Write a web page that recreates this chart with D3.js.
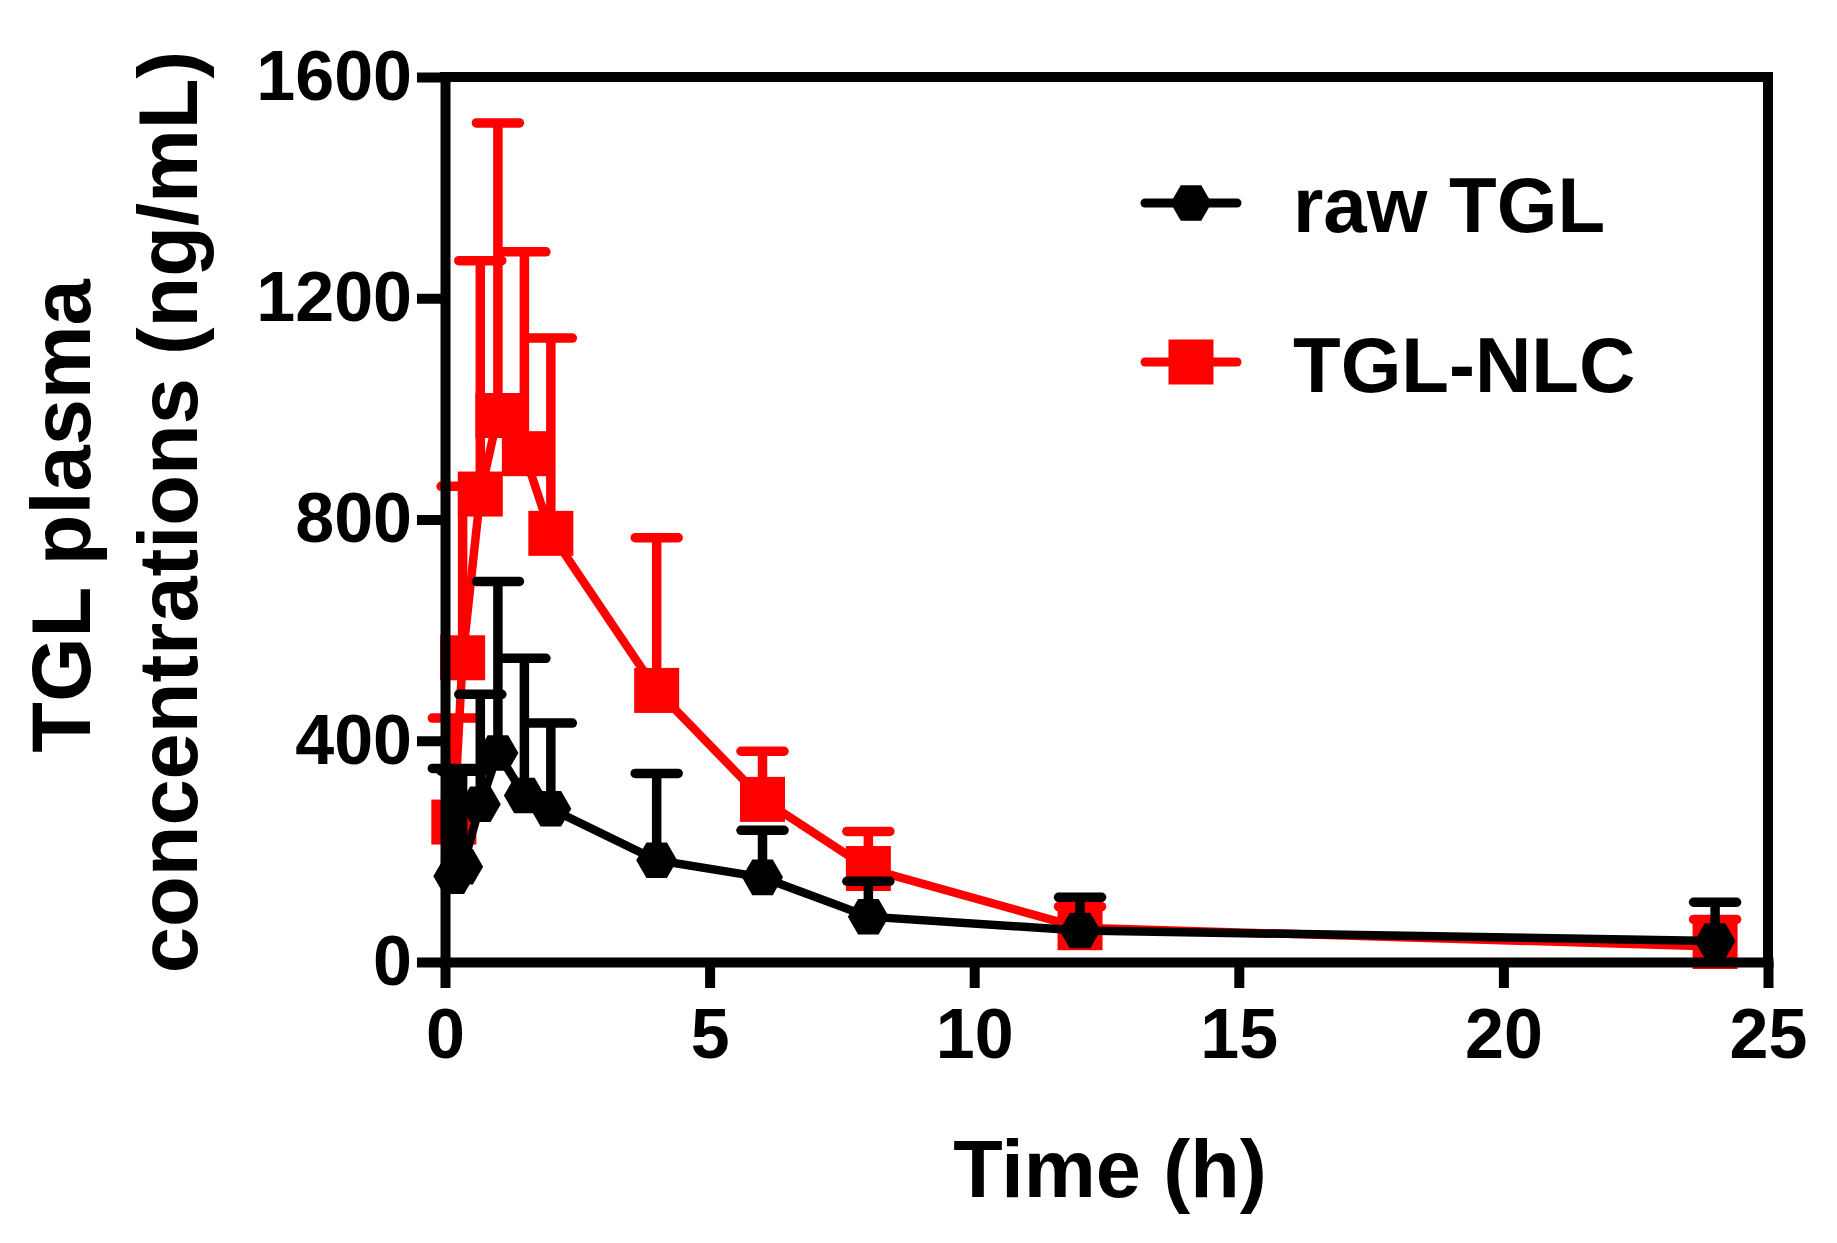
<!DOCTYPE html>
<html>
<head>
<meta charset="utf-8">
<script src="https://cdn.jsdelivr.net/npm/d3@7"></script>
<style>
  body { margin: 0; background: #fff; }
  text { font-family: "Liberation Sans", Arial, sans-serif; font-weight: bold; }
</style>
</head>
<body>
<div id="root"></div>
<script>
// sampling times (h)
const times = [0.167, 0.333, 0.667, 1, 1.5, 2, 4, 6, 8, 12, 24];

// raw TGL: mean and SD (ng/mL)
const rawMean = [155, 172, 285, 378, 301, 277, 184, 153, 82, 57, 38];
const rawSD = [195, 173, 199, 310, 248, 155, 157, 85, 64, 60, 70];

// TGL-NLC: mean and SD (ng/mL)
const nlcMean = [253, 550, 846, 988, 919, 775, 491, 294, 169, 62, 28];
const nlcSD = [188, 310, 422, 529, 365, 353, 276, 87, 67, 38, 49];

const xTicks = [0, 5, 10, 15, 20, 25];
const yTicks = [0, 400, 800, 1200, 1600];
const seriesNames = ["raw TGL", "TGL-NLC"];

// set the dimensions and margins of the graph
let margin = { top: 77, right: 69, bottom: 281, left: 445 },
  width = 1837 - margin.left - margin.right,
  height = 1243 - margin.top - margin.bottom;

let x = d3.scaleLinear().domain([0, 25]).range([0, width]);
let y = d3.scaleLinear().domain([0, 1600]).range([height, 0]);

let svg = d3
  .select("#root")
  .append("svg")
  .attr("width", 1837)
  .attr("height", 1243)
  .style("background", "#fff");

let g = svg.append("g").attr("transform", "translate(" + margin.left + "," + margin.top + ")");

// hexagon with flat top, r = half width
const hexPath = (r) => {
  let p = d3.path();
  for (let i = 0; i < 6; i++) {
    let a = (Math.PI / 3) * i;
    let px = r * Math.cos(a), py = r * Math.sin(a);
    if (i === 0) p.moveTo(px, py);
    else p.lineTo(px, py);
  }
  p.closePath();
  return p.toString();
};

const makeData = (mean, sd) => times.map((t, i) => ({ t: t, m: mean[i], sd: sd[i] }));
const raw = makeData(rawMean, rawSD);
const nlc = makeData(nlcMean, nlcSD);

let line = d3.line().x((d) => x(d.t)).y((d) => y(d.m));

// draw one series: error bars, line, markers
const drawSeries = (data, color, marker) => {
  let s = g.append("g");
  // upper error bars
  s.selectAll(".stem")
    .data(data)
    .enter()
    .append("line")
    .attr("x1", (d) => x(d.t))
    .attr("x2", (d) => x(d.t))
    .attr("y1", (d) => y(d.m))
    .attr("y2", (d) => y(d.m + d.sd))
    .attr("stroke", color)
    .attr("stroke-width", 9.5);
  s.selectAll(".cap")
    .data(data)
    .enter()
    .append("line")
    .attr("x1", (d) => x(d.t) - 21.5)
    .attr("x2", (d) => x(d.t) + 21.5)
    .attr("y1", (d) => y(d.m + d.sd))
    .attr("y2", (d) => y(d.m + d.sd))
    .attr("stroke", color)
    .attr("stroke-width", 9.5)
    .attr("stroke-linecap", "round");
  s.append("path")
    .datum(data)
    .attr("d", line)
    .attr("fill", "none")
    .attr("stroke", color)
    .attr("stroke-width", 8.5);
  if (marker === "square") {
    s.selectAll(".mk")
      .data(data)
      .enter()
      .append("rect")
      .attr("x", (d) => x(d.t) - 22.5)
      .attr("y", (d) => y(d.m) - 22.5)
      .attr("width", 45)
      .attr("height", 45)
      .attr("fill", color);
  } else {
    s.selectAll(".mk")
      .data(data)
      .enter()
      .append("path")
      .attr("d", hexPath(20.5))
      .attr("transform", (d) => "translate(" + x(d.t) + "," + y(d.m) + ")")
      .attr("fill", color);
  }
};

drawSeries(nlc, "#ff0000", "square");
drawSeries(raw, "#000000", "hex");

// frame: top and right lines
g.append("line")
  .attr("x1", 0).attr("x2", width)
  .attr("y1", 0).attr("y2", 0)
  .attr("stroke", "#000").attr("stroke-width", 10).attr("stroke-linecap", "square");
g.append("line")
  .attr("x1", width).attr("x2", width)
  .attr("y1", 0).attr("y2", height)
  .attr("stroke", "#000").attr("stroke-width", 10).attr("stroke-linecap", "square");

// Add the x Axis
let xAxis = g
  .append("g")
  .attr("transform", "translate(0," + height + ")")
  .call(d3.axisBottom(x).tickValues(xTicks).tickFormat(d3.format("d")).tickSize(26).tickSizeOuter(0).tickPadding(20));

// Add the y Axis
let yAxis = g
  .append("g")
  .call(d3.axisLeft(y).tickValues(yTicks).tickFormat(d3.format("d")).tickSize(28).tickSizeOuter(0).tickPadding(5));

[xAxis, yAxis].forEach((a) => {
  a.select(".domain").attr("stroke-width", 10).attr("stroke-linecap", "square");
  a.selectAll(".tick line").attr("stroke-width", 10);
  a.selectAll(".tick text").attr("fill", "#000").style("font-size", "70px").style("font-family", '"Liberation Sans", Arial, sans-serif').style("font-weight", "bold");
});

// axis titles
svg.append("text")
  .attr("x", 1110)
  .attr("y", 1197)
  .attr("text-anchor", "middle")
  .style("font-size", "81px")
  .text("Time (h)");

svg.append("text")
  .attr("transform", "translate(90,516) rotate(-90)")
  .attr("text-anchor", "middle")
  .style("font-size", "83px")
  .text("TGL plasma");

svg.append("text")
  .attr("transform", "translate(197,512) rotate(-90)")
  .attr("text-anchor", "middle")
  .style("font-size", "83px")
  .text("concentrations (ng/mL)");

// legend
let legend = svg.append("g");
const legendY = [203, 362];
const legendColors = ["#000000", "#ff0000"];
seriesNames.forEach((name, i) => {
  let lg = legend.append("g").attr("transform", "translate(0," + legendY[i] + ")");
  lg.append("line")
    .attr("x1", 1145).attr("x2", 1237)
    .attr("y1", 0).attr("y2", 0)
    .attr("stroke", legendColors[i])
    .attr("stroke-width", 9)
    .attr("stroke-linecap", "round");
  if (i === 0) {
    lg.append("path").attr("d", hexPath(20.5)).attr("transform", "translate(1191,0)").attr("fill", legendColors[i]);
  } else {
    lg.append("rect").attr("x", 1168.5).attr("y", -22.5).attr("width", 45).attr("height", 45).attr("fill", legendColors[i]);
  }
  lg.append("text")
    .attr("x", 1293)
    .attr("y", i === 0 ? 29 : 30)
    .style("font-size", "78px")
    .text(name);
});
</script>
</body>
</html>
